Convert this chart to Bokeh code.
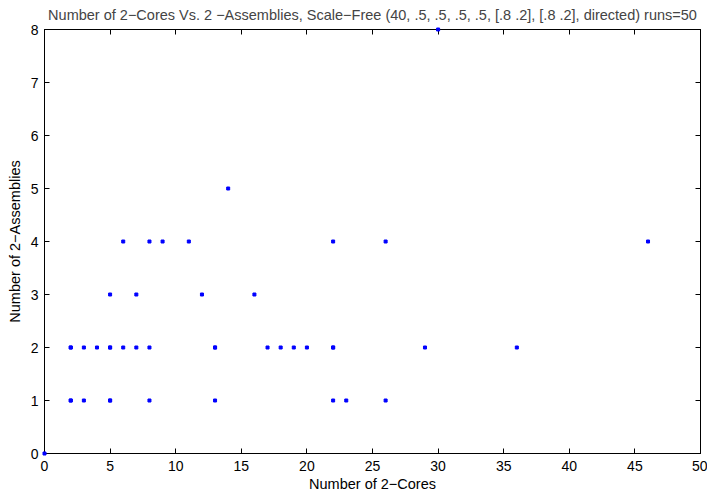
from bokeh.plotting import figure
from bokeh.models import LinearAxis, FixedTicker, Range1d, CustomJSTickFormatter
from bokeh.embed import file_html
from bokeh.resources import INLINE

# Data (number of 2-cores, number of 2-assemblies)
cores = [0,
         2, 2, 3, 5, 5, 8, 13, 22, 23, 26,
         2, 2, 3, 4, 5, 5, 6, 7, 8, 13, 13, 17, 18, 19, 20, 22, 22, 29, 36,
         5, 7, 12, 16,
         6, 8, 9, 11, 22, 26, 46,
         14,
         30]
assemblies = [0,
              1, 1, 1, 1, 1, 1, 1, 1, 1, 1,
              2, 2, 2, 2, 2, 2, 2, 2, 2, 2, 2, 2, 2, 2, 2, 2, 2, 2, 2,
              3, 3, 3, 3,
              4, 4, 4, 4, 4, 4, 4,
              5,
              8]
x_ticks = [0, 5, 10, 15, 20, 25, 30, 35, 40, 45, 50]
y_ticks = [0, 1, 2, 3, 4, 5, 6, 7, 8]
title_text = "Number of 2\u2212Cores Vs. 2 \u2212Assemblies, Scale\u2212Free (40, .5, .5, .5, .5, [.8 .2], [.8 .2], directed) runs=50"
x_label = "Number of 2\u2212Cores"
y_label = "Number of 2\u2212Assemblies"

FONT = "Liberation Sans"

p = figure(width=707, height=497, output_backend="svg", toolbar_location=None,
           x_range=Range1d(0, 50), y_range=Range1d(0, 8),
           x_axis_location=None, y_axis_location=None,
           min_border_left=44, min_border_right=7, min_border_top=29, min_border_bottom=44)
p.title.text = title_text
p.title.align = "center"
p.title.vertical_align = "top"
p.title.text_font = FONT
p.title.text_font_size = "14.5px"
p.title.text_font_style = "normal"
p.title.standoff = 10
p.grid.visible = False
p.outline_line_color = "black"
p.outline_line_width = 1
p.background_fill_color = "white"
p.border_fill_color = "white"

def style_axis(ax, ticks, show_labels=True):
    ax.ticker = FixedTicker(ticks=ticks)
    ax.major_tick_in = 5
    ax.major_tick_out = 0
    ax.minor_tick_in = 0
    ax.minor_tick_out = 0
    ax.axis_line_color = "black"
    ax.major_tick_line_color = "black"
    ax.major_label_text_font = FONT
    ax.major_label_text_font_size = "14px"
    ax.major_label_text_color = "black"
    ax.axis_label_text_font = FONT
    ax.axis_label_text_font_size = "14.5px"
    ax.axis_label_text_font_style = "normal"
    ax.axis_label_text_color = "black"
    if not show_labels:
        ax.major_label_text_font_size = "0px"
        ax.major_label_standoff = 0
        ax.formatter = CustomJSTickFormatter(code="return ''")

xb = LinearAxis(axis_label=x_label)
style_axis(xb, x_ticks)
xb.major_label_standoff = 7
xb.axis_label_standoff = 2
p.add_layout(xb, "below")

yl = LinearAxis(axis_label=y_label)
style_axis(yl, y_ticks)
yl.major_label_standoff = 6
yl.axis_label_standoff = 5
p.add_layout(yl, "left")

xt = LinearAxis()
style_axis(xt, x_ticks, show_labels=False)
p.add_layout(xt, "above")

yr = LinearAxis()
style_axis(yr, y_ticks, show_labels=False)
p.add_layout(yr, "right")

p.scatter(cores, assemblies, size=3, color="blue", marker="square", level="overlay")

open("out.html", "w").write(file_html(p, INLINE))
